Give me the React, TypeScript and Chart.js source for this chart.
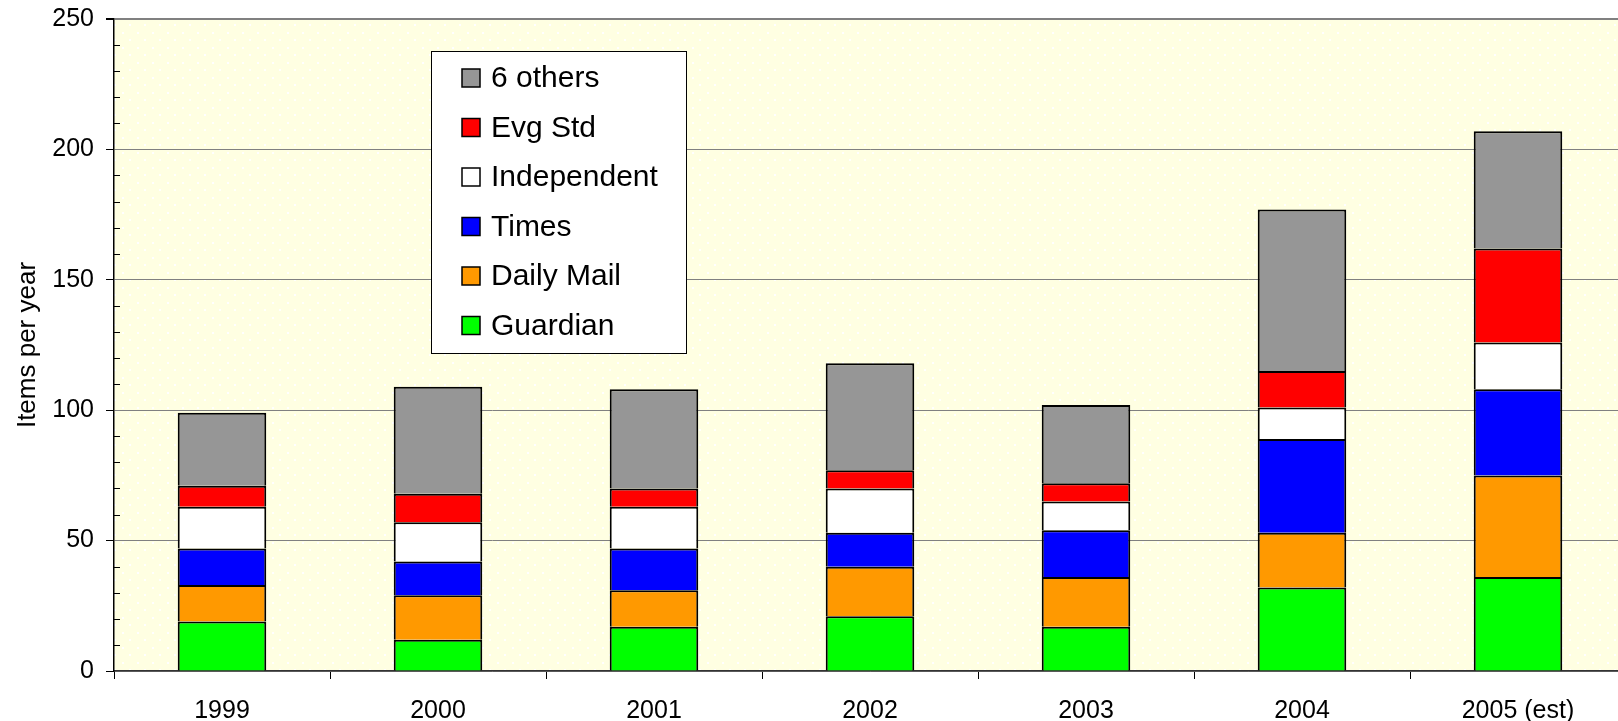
import { useEffect, useRef } from 'react';
import { Chart, registerables } from 'chart.js';

Chart.register(...registerables);

const FONT = '"Liberation Sans", Arial, Helvetica, sans-serif';

const categories = ['1999', '2000', '2001', '2002', '2003', '2004', '2005 (est)'];

const guardian = [19, 12, 17, 21, 17, 32, 36];
const dailyMail = [14, 17, 14, 19, 19, 21, 39];
const times = [14, 13, 16, 13, 18, 36, 33];
const independent = [16, 15, 16, 17, 11, 12, 18];
const evgStd = [8, 11, 7, 7, 7, 14, 36];
const sixOthers = [28, 41, 38, 41, 30, 62, 45];

const seriesLabels = ['Guardian', 'Daily Mail', 'Times', 'Independent', 'Evg Std', '6 others'];
const seriesValues = [guardian, dailyMail, times, independent, evgStd, sixOthers];
const seriesColors = ['#00FF00', '#FF9900', '#0000FF', '#FFFFFF', '#FF0000', '#969696'];

const yTitle = 'Items per year';

export default function App() {
  const ref = useRef<HTMLCanvasElement>(null);

  useEffect(() => {
    const canvas = ref.current;
    if (!canvas) return;
    const ctx0 = canvas.getContext('2d');
    if (!ctx0) return;

    // dotted light-yellow plot background
    const tile = document.createElement('canvas');
    tile.width = 15;
    tile.height = 15;
    const tctx = tile.getContext('2d')!;
    tctx.fillStyle = '#FFFFE2';
    tctx.fillRect(0, 0, 15, 15);
    tctx.fillStyle = '#FFFFFF';
    tctx.fillRect(2, 2, 2, 2);
    tctx.fillRect(9, 9, 2, 2);
    const pattern = ctx0.createPattern(tile, 'repeat');

    const plotBg = {
      id: 'plotBg',
      beforeDraw(chart: any) {
        const { ctx, chartArea: a } = chart;
        ctx.save();
        ctx.fillStyle = pattern || '#FFFFE6';
        ctx.fillRect(a.left, a.top, a.right - a.left, a.bottom - a.top);
        ctx.restore();
      },
    };

    const minorTicks = {
      id: 'minorTicks',
      afterDraw(chart: any) {
        const y = chart.scales.y;
        const { ctx } = chart;
        ctx.save();
        ctx.strokeStyle = '#000';
        ctx.lineWidth = 1;
        for (let v = 10; v < 250; v += 10) {
          if (v % 50 === 0) continue;
          const py = Math.round(y.getPixelForValue(v)) + 0.5;
          ctx.beginPath();
          ctx.moveTo(chart.chartArea.left, py);
          ctx.lineTo(chart.chartArea.left + 6, py);
          ctx.stroke();
        }
        ctx.restore();
      },
    };

    const legendBox = {
      id: 'legendBox',
      afterDraw(chart: any) {
        const { ctx, chartArea: a } = chart;
        const x0 = a.left + 317;
        const y0 = a.top + 32;
        const w = 255;
        const h = 302;
        ctx.save();
        ctx.fillStyle = '#FFFFFF';
        ctx.fillRect(x0, y0, w, h);
        ctx.strokeStyle = '#000';
        ctx.lineWidth = 1;
        ctx.strokeRect(x0 + 0.5, y0 + 0.5, w, h);
        const ds = chart.data.datasets.slice().reverse();
        ctx.font = `30px ${FONT}`;
        ctx.textBaseline = 'middle';
        ctx.textAlign = 'left';
        ds.forEach((d: any, i: number) => {
          const cy = y0 + 27 + i * 49.5;
          ctx.fillStyle = d.backgroundColor;
          ctx.fillRect(x0 + 31, cy - 9, 18, 18);
          ctx.strokeStyle = '#000';
          ctx.lineWidth = 1.5;
          ctx.strokeRect(x0 + 31, cy - 9, 18, 18);
          ctx.fillStyle = '#000';
          ctx.fillText(d.label, x0 + 60, cy + 1);
        });
        ctx.restore();
      },
    };

    const chart = new Chart(canvas, {
      type: 'bar',
      data: {
        labels: categories,
        datasets: seriesLabels.map((label, i) => ({
          label,
          data: seriesValues[i],
          backgroundColor: seriesColors[i],
          borderColor: '#000000',
          borderWidth: 2,
          borderSkipped: 'start',
          barPercentage: 0.41,
          categoryPercentage: 1,
        })),
      },
      options: {
        responsive: false,
        animation: false,
        devicePixelRatio: 1,
        layout: { padding: { top: 19, right: 14, left: 0, bottom: 0 } },
        plugins: {
          legend: { display: false },
          tooltip: { enabled: false },
        },
        scales: {
          x: {
            stacked: true,
            offset: true,
            ticks: {
              font: { family: FONT, size: 25 },
              color: '#000',
              padding: 17,
              maxRotation: 0,
              autoSkip: false,
            },
            grid: {
              offset: true,
              drawOnChartArea: false,
              drawTicks: true,
              tickLength: 8,
              tickColor: '#000',
            },
            border: { color: '#333', width: 1.5 },
            afterFit(s: any) {
              s.height = 50;
              s.paddingLeft = 0;
              s.paddingRight = 0;
            },
          },
          y: {
            stacked: true,
            min: 0,
            max: 250,
            ticks: {
              stepSize: 50,
              font: { family: FONT, size: 25 },
              color: '#000',
              padding: 12,
            },
            title: {
              display: true,
              text: yTitle,
              color: '#000',
              font: { family: FONT, size: 26 },
              padding: { top: 12, bottom: 0 },
            },
            grid: {
              color: '#808080',
              lineWidth: (c: any) => (c.tick && c.tick.value === 250 ? 2 : 1),
              drawTicks: true,
              tickLength: 8,
              tickColor: '#000',
            },
            border: { color: '#000', width: 1.5 },
            afterFit(s: any) {
              s.width = 114;
              s.paddingTop = 0;
              s.paddingBottom = 0;
            },
          },
        },
      } as any,
      plugins: [plotBg, minorTicks, legendBox],
    });

    return () => chart.destroy();
  }, []);

  return (
    <div
      style={{
        position: 'fixed',
        left: 0,
        top: 0,
        width: 1618,
        height: 721,
        overflow: 'hidden',
        background: '#fff',
      }}
    >
      <canvas ref={ref} width={1640} height={721} style={{ display: 'block', width: 1640, height: 721 }} />
    </div>
  );
}
